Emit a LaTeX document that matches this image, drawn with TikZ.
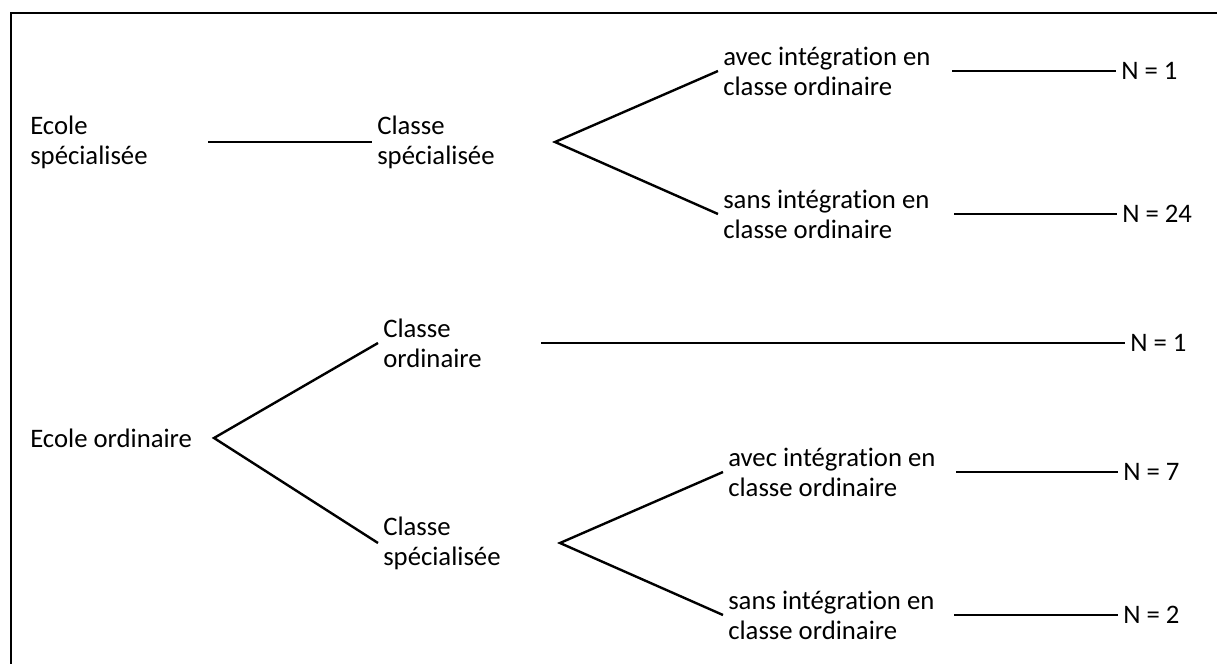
\documentclass[tikz,border=0pt]{standalone}
\usepackage{fontspec}
\setmainfont{Carlito}[Ligatures=NoCommon]

\tikzset{
  lbl/.style={anchor=west, align=left, inner sep=1.25mm, font=\fontsize{19pt}{21.3pt}\selectfont},
  branch/.style={line width=0.06cm, black}
}

\begin{document}
\begin{tikzpicture}[x=0.025cm, y=-0.025cm]

\useasboundingbox (0,0) rectangle (1217,664);
\clip (0,0) rectangle (1217,664);
\draw[line width=0.06cm] (11,13) rectangle (1240,690);

\coordinate (S1) at (208,142);
\coordinate (F1) at (555,142);
\coordinate (T1) at (952,71);
\coordinate (T2) at (954,214);
\coordinate (F2) at (214,438);
\coordinate (T3) at (541,343);
\coordinate (F3) at (560,543);
\coordinate (T4) at (956,472);
\coordinate (T5) at (954,615);

\node[lbl] (esp) at (25,142) {Ecole\\spécialisée};
\node[lbl] (csp1) at (372,142) {Classe\\spécialisée};
\node[lbl] (avec1) at (718,71) {avec intégration en\\classe ordinaire};
\node[lbl] (sans1) at (718,214) {sans intégration en\\classe ordinaire};
\node[lbl] (n1) at (1116,71) {N = 1};
\node[lbl] (n24) at (1117,214) {N = 24};

\node[lbl] (eo) at (25,438) {Ecole ordinaire};
\node[lbl] (co) at (378,343) {Classe\\ordinaire};
\node[lbl] (csp2) at (378,543) {Classe\\spécialisée};
\node[lbl] (avec2) at (723,472) {avec intégration en\\classe ordinaire};
\node[lbl] (sans2) at (723,615) {sans intégration en\\classe ordinaire};
\node[lbl] (n1b) at (1125,343) {N = 1};
\node[lbl] (n7) at (1118,472) {N = 7};
\node[lbl] (n2) at (1118,615) {N = 2};

\draw[branch] (S1) to (csp1.west);
\draw[branch] (avec1.west) to (F1) to (sans1.west);
\draw[branch] (T1) to (n1.west);
\draw[branch] (T2) to (n24.west);

\draw[branch] (co.west) to (F2) to (csp2.west);
\draw[branch] (T3) to (n1b.west);
\draw[branch] (avec2.west) to (F3) to (sans2.west);
\draw[branch] (T4) to (n7.west);
\draw[branch] (T5) to (n2.west);

\end{tikzpicture}
\end{document}
